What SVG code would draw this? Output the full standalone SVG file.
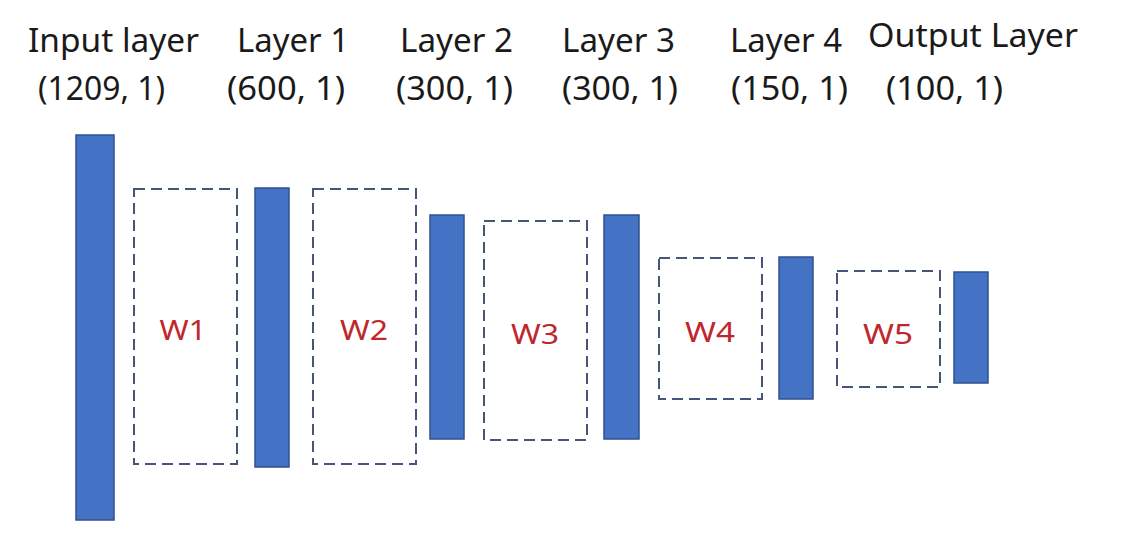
<svg xmlns="http://www.w3.org/2000/svg" width="1124" height="545" viewBox="0 0 1124 545">
<style>
.bg{fill:#ffffff}
.bar{fill:#4472C4;stroke:#2F528F;stroke-width:1.5}
.w{fill:none;stroke:#465579;stroke-width:2;stroke-dasharray:11 6}
.h{font-family:"Noto Sans","Open Sans",sans-serif;font-size:32px;fill:#1a1a1a}
.wl{font-family:"Noto Sans","Open Sans",sans-serif;font-size:27px;fill:#C0262D;text-anchor:middle}
</style>
<rect class="bg" x="0" y="0" width="1124" height="545"/>
<g id="labels">
<text class="h" x="28" y="52" textLength="171" lengthAdjust="spacingAndGlyphs">Input layer</text>
<text class="h" x="237" y="52" textLength="112" lengthAdjust="spacingAndGlyphs">Layer 1</text>
<text class="h" x="400" y="52" textLength="113" lengthAdjust="spacingAndGlyphs">Layer 2</text>
<text class="h" x="562" y="52" textLength="113" lengthAdjust="spacingAndGlyphs">Layer 3</text>
<text class="h" x="730" y="52" textLength="112" lengthAdjust="spacingAndGlyphs">Layer 4</text>
<text class="h" x="868" y="47" textLength="210" lengthAdjust="spacingAndGlyphs">Output Layer</text>
<text class="h" x="38" y="100" textLength="127" lengthAdjust="spacingAndGlyphs">(1209, 1)</text>
<text class="h" x="227" y="100" textLength="118" lengthAdjust="spacingAndGlyphs">(600, 1)</text>
<text class="h" x="396" y="100" textLength="117" lengthAdjust="spacingAndGlyphs">(300, 1)</text>
<text class="h" x="562" y="100" textLength="116" lengthAdjust="spacingAndGlyphs">(300, 1)</text>
<text class="h" x="731" y="100" textLength="117" lengthAdjust="spacingAndGlyphs">(150, 1)</text>
<text class="h" x="886" y="100" textLength="117" lengthAdjust="spacingAndGlyphs">(100, 1)</text>
</g>
<g id="input"><rect class="bar" x="76" y="135" width="38" height="385"/></g>
<g id="w1"><rect class="w" x="134" y="189" width="103" height="275"/><text class="wl" x="183" y="340" textLength="47" lengthAdjust="spacingAndGlyphs">W1</text></g>
<g id="layer1"><rect class="bar" x="255" y="188" width="34" height="279"/></g>
<g id="w2"><rect class="w" x="313" y="189" width="103" height="275"/><text class="wl" x="364" y="340" textLength="48" lengthAdjust="spacingAndGlyphs">W2</text></g>
<g id="layer2"><rect class="bar" x="430" y="215" width="34" height="224"/></g>
<g id="w3"><rect class="w" x="484" y="221" width="103" height="219"/><text class="wl" x="535" y="344" textLength="48" lengthAdjust="spacingAndGlyphs">W3</text></g>
<g id="layer3"><rect class="bar" x="604" y="215" width="35" height="224"/></g>
<g id="w4"><rect class="w" x="659" y="258" width="103" height="141"/><text class="wl" x="710" y="342" textLength="50" lengthAdjust="spacingAndGlyphs">W4</text></g>
<g id="layer4"><rect class="bar" x="779" y="257" width="34" height="142"/></g>
<g id="w5"><rect class="w" x="837" y="271" width="103" height="116"/><text class="wl" x="888" y="344" textLength="50" lengthAdjust="spacingAndGlyphs">W5</text></g>
<g id="output"><rect class="bar" x="954" y="272" width="34" height="111"/></g>
<g id="connectors"></g>
</svg>
